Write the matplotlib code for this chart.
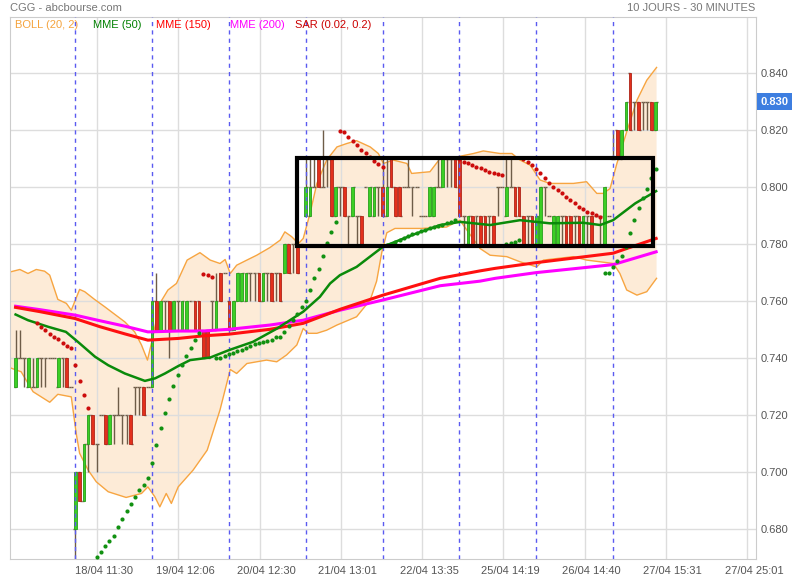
import numpy as np
import matplotlib
matplotlib.use("Agg")
import matplotlib.pyplot as plt
from matplotlib.patches import Rectangle
from matplotlib.transforms import ScaledTranslation, blended_transform_factory

plt.rcParams['font.family'] = ['Liberation Sans', 'DejaVu Sans']

# 30-minute bars, prices in cents, one line per trading day
opens = [73, 74, 74, 73, 73, 73, 74, 74, 74, 74, 73, 74, 74, 73,
         68, 70, 69, 71, 72, 71, 72, 72, 71, 72, 72, 72, 72, 72, 73, 73, 73, 73,
         73, 76, 75, 76, 76, 75, 76, 75, 75, 76, 76, 76, 75, 75, 76, 75, 77, 77,
         76, 75, 76, 76, 76, 77, 77, 77, 76, 77, 77, 77, 77, 77, 78, 78, 78, 78,
         79, 79, 80, 81, 80, 81, 81, 79, 80, 80, 79, 79, 79, 79, 80, 79, 79, 80,
         80, 79, 81, 80, 80, 80, 80, 80, 80, 79, 79, 79, 79, 80, 80, 81, 81, 81,
         81, 79, 78, 79, 79, 79, 79, 79, 79, 80, 80, 79, 80, 80, 80, 79, 79, 79,
         78, 78, 80, 79, 78, 78, 79, 79, 79, 79, 79, 78, 79, 79, 79, 79, 78, 79,
         81, 82, 81, 82, 84, 83, 83, 83, 83, 83, 82]
highs = [75, 75, 74, 74, 74, 74, 74, 74, 74, 74, 74, 74, 74, 73,
         70, 70, 71, 72, 72, 71, 72, 72, 72, 72, 73, 72, 72, 72, 73, 73, 73, 73,
         76, 77, 76, 76, 76, 76, 76, 76, 76, 76, 76, 76, 75, 75, 76, 77, 77, 77,
         76, 76, 77, 77, 77, 77, 77, 77, 77, 77, 77, 77, 77, 78, 78, 78, 78, 78,
         81, 81, 81, 81, 82, 81, 81, 80, 80, 80, 79, 80, 79, 79, 80, 80, 80, 80,
         81, 81, 81, 80, 80, 80, 81, 80, 80, 79, 79, 80, 80, 81, 81, 81, 81, 81,
         81, 79, 79, 79, 79, 79, 79, 79, 79, 80, 80, 81, 81, 80, 80, 79, 79, 79,
         79, 80, 80, 79, 79, 79, 79, 79, 79, 79, 79, 79, 79, 79, 79, 79, 80, 79,
         82, 82, 82, 83, 84, 83, 83, 83, 83, 83, 83]
lows = [73, 74, 73, 73, 73, 73, 73, 73, 74, 74, 73, 73, 73, 73,
        66, 69, 69, 70, 71, 70, 72, 71, 71, 71, 72, 71, 71, 71, 72, 72, 72, 73,
        73, 75, 75, 75, 74, 75, 75, 75, 75, 76, 75, 75, 74, 74, 75, 75, 76, 77,
        75, 75, 76, 76, 76, 76, 76, 76, 76, 76, 76, 76, 76, 77, 77, 77, 77, 78,
        79, 79, 80, 80, 80, 80, 79, 79, 79, 79, 78, 79, 78, 78, 80, 79, 79, 79,
        79, 79, 80, 79, 79, 80, 80, 79, 80, 79, 79, 79, 79, 80, 80, 80, 80, 80,
        79, 78, 78, 78, 78, 78, 78, 78, 78, 79, 80, 79, 80, 79, 79, 78, 78, 78,
        78, 78, 79, 79, 78, 78, 78, 78, 78, 78, 78, 78, 78, 78, 79, 78, 78, 79,
        81, 81, 81, 82, 82, 82, 82, 82, 82, 82, 82]
closes = [74, 74, 74, 74, 73, 74, 74, 74, 74, 74, 74, 74, 73, 73,
          70, 69, 71, 72, 71, 71, 72, 71, 72, 72, 72, 72, 72, 71, 73, 73, 72, 73,
          76, 75, 76, 76, 75, 76, 76, 76, 76, 76, 75, 75, 74, 74, 76, 76, 76, 77,
          75, 76, 77, 77, 77, 77, 77, 76, 77, 77, 76, 77, 76, 78, 77, 78, 77, 78,
          80, 80, 80, 80, 80, 81, 79, 80, 80, 79, 79, 80, 79, 78, 80, 80, 80, 80,
          79, 80, 80, 79, 79, 80, 80, 80, 80, 79, 79, 80, 80, 80, 81, 81, 81, 80,
          79, 79, 79, 78, 79, 78, 78, 79, 78, 80, 80, 80, 80, 79, 79, 78, 79, 78,
          79, 80, 80, 79, 79, 79, 79, 78, 78, 79, 78, 79, 79, 78, 79, 79, 80, 79,
          81, 81, 82, 83, 82, 83, 82, 83, 83, 82, 83]

day_starts = [14, 32, 50, 68, 86, 104, 122, 140]
tick_labels = ['18/04 11:30', '19/04 12:06', '20/04 12:30', '21/04 13:01', '22/04 13:35',
               '25/04 14:19', '26/04 14:40', '27/04 15:31', '27/04 25:01']

# Bollinger (20, 2)
boll_up_x = [-1.1, 1.0, 2.9, 4.85, 6.8, 8.0, 9.9, 11.9, 13.05, 15.0, 16.2, 18.5, 20.9, 23.2,
             25.6, 27.9, 29.5, 30.9, 32.0, 33.8, 35.7, 37.7, 40.2, 43.2, 45.6, 47.9, 49.1,
             50.3, 51.8, 54.2, 56.5, 59.6, 62.0, 63.1, 64.7, 66.3, 67.4, 69.0, 70.6, 72.9,
             75.3, 77.6, 79.9, 83.1, 85.0, 86.2, 88.5, 91.7, 92.8, 97.1, 99.5, 103.4, 107.3,
             109.6, 113.5, 116.3, 118.2, 120.6, 122.9, 125.2, 130.7, 133.8, 136.2, 137.7,
             139.3, 140.9, 143.2, 145.6, 147.9, 150.2]
boll_up = [0.7703, 0.7711, 0.7697, 0.7711, 0.7705, 0.7691, 0.7606, 0.7592, 0.7568, 0.7641,
           0.7633, 0.7606, 0.7580, 0.7554, 0.7527, 0.7492, 0.7446, 0.7393, 0.7463, 0.7592,
           0.7639, 0.7662, 0.7744, 0.7770, 0.7744, 0.7732, 0.7746, 0.7697, 0.7726, 0.7744,
           0.7761, 0.7788, 0.7814, 0.7843, 0.7826, 0.7802, 0.7820, 0.7908, 0.8013, 0.8095,
           0.8141, 0.8153, 0.8163, 0.8141, 0.8118, 0.8083, 0.8095, 0.8083, 0.8048, 0.8054,
           0.8101, 0.8106, 0.8118, 0.8127, 0.8118, 0.8118, 0.8095, 0.8077, 0.8025, 0.8013,
           0.8013, 0.8019, 0.7978, 0.7978, 0.7995, 0.8083, 0.8194, 0.8305, 0.8375, 0.8420]
boll_lo_x = [-1.1, 1.3, 4.1, 6.0, 8.0, 9.9, 13.05, 14.2, 15.0, 17.0, 18.9, 21.7, 25.9, 29.5,
             31.0, 32.6, 33.8, 35.3, 36.5, 38.1, 41.6, 44.9, 47.9, 50.3, 51.8, 54.2, 56.5,
             58.8, 61.2, 63.5, 65.9, 67.4, 68.6, 70.6, 72.9, 75.3, 79.9, 83.1, 84.6, 85.8,
             87.0, 88.9, 95.0, 101.0, 104.1, 108.8, 111.2, 115.1, 118.2, 122.1, 123.7,
             130.7, 133.8, 140.1, 141.6, 143.2, 145.6, 147.9, 150.2]
boll_lo = [0.7365, 0.7352, 0.7282, 0.7264, 0.7245, 0.7273, 0.7264, 0.7136, 0.7066, 0.7007,
           0.6966, 0.6931, 0.6911, 0.6925, 0.6948, 0.6914, 0.6878, 0.6925, 0.6890, 0.6948,
           0.7007, 0.7077, 0.7218, 0.7360, 0.7346, 0.7381, 0.7387, 0.7393, 0.7387, 0.7411,
           0.7446, 0.7504, 0.7487, 0.7487, 0.7498, 0.7516, 0.7545, 0.7604, 0.7670, 0.7770,
           0.7840, 0.7855, 0.7855, 0.7860, 0.7884, 0.7785, 0.7761, 0.7756, 0.7738, 0.7720,
           0.7744, 0.7756, 0.7744, 0.7732, 0.7697, 0.7639, 0.7621, 0.7633, 0.7680]

# moving averages (MME)
mme50_x = [0, 2.9, 7.6, 11.8, 14.6, 18.6, 21.7, 25.6, 30.3, 32.7, 35.0, 38.1, 40.9, 45.6,
           50.0, 55.6, 61.3, 67.4, 71.3, 73.7, 76.0, 79.9, 86.1, 94.0, 99.5, 104.2, 111.2,
           118.2, 125.2, 133.0, 137.0, 140.0, 145.2, 150.1]
mme50 = [0.7553, 0.7533, 0.7510, 0.7492, 0.7457, 0.7405, 0.7375, 0.7346, 0.7320, 0.7329,
         0.7346, 0.7372, 0.7393, 0.7402, 0.7428, 0.7457, 0.7504, 0.7563, 0.7615, 0.7662,
         0.7691, 0.7720, 0.7791, 0.7838, 0.7867, 0.7878, 0.7867, 0.7884, 0.7873, 0.7875,
         0.7867, 0.7884, 0.7943, 0.7986]
mme_long_x = [0, 5.7, 13.9, 19.8, 25.6, 31.0, 38.1, 43.9, 50.0, 59.6, 67.4, 76.0, 86.1, 99.5,
              108.8, 112.4, 122.0, 140.0, 150.1]
mme150 = [0.7578, 0.7563, 0.7539, 0.7510, 0.7485, 0.7463, 0.7469, 0.7478, 0.7484, 0.7501,
          0.7522, 0.7571, 0.7621, 0.7680, 0.7706, 0.7715, 0.7735, 0.7768, 0.7820]
mme200 = [0.7582, 0.7570, 0.7551, 0.7531, 0.7512, 0.7492, 0.7495, 0.7495, 0.7501, 0.7516,
          0.7533, 0.7568, 0.7604, 0.7654, 0.7670, 0.7680, 0.7700, 0.7728, 0.7773]

# parabolic SAR (0.02, 0.2), one dot per bar from bar 5, starts above price
sar_first = 5
sar_flips = [18, 44, 47, 76, 87, 104, 115, 119, 138]
sar = [0.7524, 0.7510, 0.7498, 0.7484, 0.7474, 0.7466, 0.7454, 0.7442, 0.7436, 0.7375, 0.7320,
       0.7270, 0.7226,
       0.6685, 0.6703, 0.6720, 0.6741, 0.6759, 0.6775, 0.6808, 0.6836, 0.6864, 0.6888, 0.6912,
       0.6937, 0.6954, 0.6978, 0.7031, 0.7095, 0.7155, 0.7208, 0.7257, 0.7303, 0.7340, 0.7375,
       0.7408, 0.7436, 0.7463, 0.7489,
       0.7696, 0.7691, 0.7685,
       0.7399, 0.7402, 0.7407, 0.7413, 0.7419, 0.7426, 0.7430, 0.7436, 0.7443, 0.7449, 0.7452,
       0.7457, 0.7461, 0.7463, 0.7473, 0.7475, 0.7492, 0.7513, 0.7533, 0.7554, 0.7580, 0.7601,
       0.7639, 0.7680, 0.7711, 0.7758, 0.7805, 0.7843, 0.7878,
       0.8198, 0.8192, 0.8177, 0.8163, 0.8147, 0.8132, 0.8118, 0.8104, 0.8091, 0.8080, 0.8071,
       0.7796, 0.7802, 0.7808, 0.7816, 0.7823, 0.7829, 0.7834, 0.7840, 0.7846, 0.7849, 0.7855,
       0.7859, 0.7863, 0.7867, 0.7873, 0.7878, 0.7884,
       0.8097, 0.8089, 0.8083, 0.8077, 0.8071, 0.8066, 0.8060, 0.8054, 0.8050, 0.8046, 0.8042,
       0.7799, 0.7805, 0.7808, 0.7814,
       0.8097, 0.8089, 0.8077, 0.8062, 0.8048, 0.8031, 0.8016, 0.8001, 0.7989, 0.7978, 0.7966,
       0.7954, 0.7943, 0.7931, 0.7922, 0.7913, 0.7908, 0.7902, 0.7896,
       0.7697, 0.7697, 0.7720, 0.7740, 0.7758, 0.7791, 0.7840, 0.7884, 0.7925, 0.7962, 0.7995,
       0.8031, 0.8062]

# hand-drawn box on the chart (bars, price)
box_x = [66.0, 149.3]
box_y = [0.7795, 0.8103]

o = np.array(opens) / 100
h = np.array(highs) / 100
l = np.array(lows) / 100
c = np.array(closes) / 100
x = np.arange(len(o))

fig = plt.figure(figsize=(8, 5.8), dpi=100)
ax = fig.add_axes([10 / 800, 21 / 580, 746 / 800, 542 / 580])
ax.set_xlim(-1.31, 173.5)
ax.set_ylim(0.6695, 0.8597)

# grid
yt = np.arange(0.68, 0.8401, 0.02)
for v in yt:
    ax.axhline(v, color='#dddddd', lw=1, zorder=1.5)
xt = 19.08 + 19.04 * np.arange(len(tick_labels))
for v in xt:
    ax.axvline(v, color='#dddddd', lw=1, zorder=1.5)

# bollinger
poly_x = list(boll_up_x) + list(boll_lo_x[::-1])
poly_y = list(boll_up) + list(boll_lo[::-1])
ax.fill(poly_x, poly_y, color='#fdebd7', lw=0, zorder=1)
ax.plot(boll_up_x, boll_up, color='#f7a541', lw=1, zorder=2)
ax.plot(boll_lo_x, boll_lo, color='#f7a541', lw=1, zorder=2)

# candles
wick = '#6e5c48'
ax.vlines(x, l, h, color=wick, lw=1, zorder=3)
ax.hlines(o, x - 0.45, x, color=wick, lw=1, zorder=3)
ax.hlines(c, x, x + 0.45, color=wick, lw=1, zorder=3)
up = c > o
dn = c < o
ax.bar(x[up], (c - o)[up], bottom=o[up], width=0.62, color='#3ccf25',
       edgecolor='#27a01c', lw=0.6, zorder=3.2)
ax.bar(x[dn], (c - o)[dn], bottom=o[dn], width=0.62, color='#e3301c',
       edgecolor='#b0261a', lw=0.6, zorder=3.2)

# day separators
for d in day_starts:
    ax.axvline(d, color='#5b5bf0', lw=1, ls=(0, (3, 3)), zorder=3.5)

# moving averages
ax.plot(mme_long_x, mme200, color='#ff00ff', lw=2.2, zorder=4)
ax.plot(mme_long_x, mme150, color='#ff1010', lw=2.2, zorder=4.1)
ax.plot(mme50_x, mme50, color='#0a8a0a', lw=1.8, zorder=4.2)

# SAR dots
sar_x = np.arange(sar_first, sar_first + len(sar))
side = np.zeros(len(sar), dtype=int)
for f in sar_flips:
    side[f - sar_first:] ^= 1
sar = np.array(sar)
ax.plot(sar_x[side == 0], sar[side == 0], 'o', color='#cc0c0c', ms=3.0, mew=0, zorder=5)
ax.plot(sar_x[side == 1], sar[side == 1], 'o', color='#119111', ms=3.0, mew=0, zorder=5)

# box
ax.add_patch(Rectangle((box_x[0], box_y[0]), box_x[1] - box_x[0], box_y[1] - box_y[0],
                       fill=False, ec='black', lw=3, zorder=6))

# axes styling
for s in ax.spines.values():
    s.set_color('#cccccc')
ax.yaxis.tick_right()
ax.set_yticks(yt)
ax.set_yticklabels(['%.3f' % v for v in yt])
ax.set_xticks(xt)
ax.set_xticklabels(tick_labels)
ax.tick_params(length=0, labelsize=8, colors='#555555', pad=3)
ax.tick_params(axis='x', pad=5)
shift = ScaledTranslation(7 / 100, 0, fig.dpi_scale_trans)
for lab in ax.get_xticklabels():
    lab.set_transform(lab.get_transform() + shift)

# last price tag
last = c[-1]
tr = blended_transform_factory(ax.transAxes, ax.transData)
ax.text(1.006, last, '%.3f' % last, transform=tr, va='center', ha='left', fontsize=8,
        fontweight='bold', color='white', clip_on=False, zorder=7,
        bbox=dict(boxstyle='square,pad=0.3', fc='#3d7ee0', ec='none'))

# titles and legend
fig.text(10 / 800, 1 - 8 / 580, 'CGG - abcbourse.com', va='center', ha='left',
         fontsize=8, color='#777777')
fig.text(755 / 800, 1 - 8 / 580, '10 JOURS - 30 MINUTES', va='center', ha='right',
         fontsize=8, color='#777777')
legend = [('BOLL (20, 2)', '#f5a33c', 15), ('MME (50)', '#008000', 93),
          ('MME (150)', '#ff0000', 156), ('MME (200)', '#ff00ff', 230),
          ('SAR (0.02, 0.2)', '#cc0000', 295)]
for txt, col, px in legend:
    fig.text(px / 800, 1 - 25 / 580, txt, va='center', ha='left', fontsize=8, color=col)

fig.savefig('out.png', dpi=100)
